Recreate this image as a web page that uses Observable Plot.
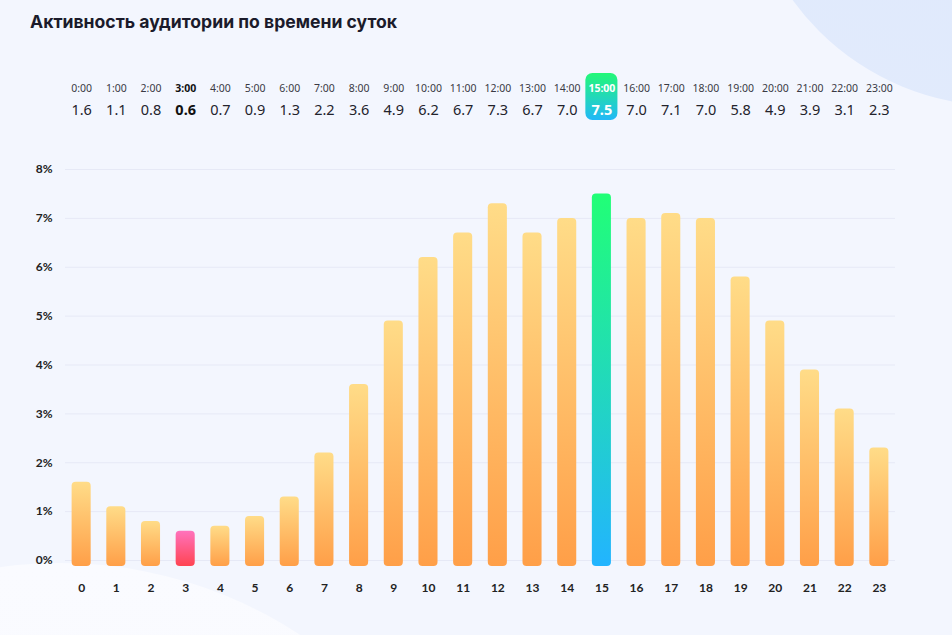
<!DOCTYPE html>
<html><head><meta charset="utf-8">
<script src="https://cdn.jsdelivr.net/npm/d3@7"></script>
<script src="https://cdn.jsdelivr.net/npm/@observablehq/plot@0.6"></script>
<style>
html,body{margin:0;padding:0;}
body{width:952px;height:635px;position:relative;overflow:hidden;background:#f3f6fe;font-family:"Noto Sans",sans-serif;}
#blobTR{position:absolute;left:744px;top:-406px;width:512px;height:512px;border-radius:50%;background:linear-gradient(200deg,#e6e6fb 0%,#dfe9fc 60%,#e2ebfc 100%);}
#blobBL{position:absolute;left:-377px;top:563px;width:874px;height:874px;border-radius:50%;background:linear-gradient(180deg,#fafbff 0%,#f6f7fd 100%);}
#title{position:absolute;left:30px;top:11px;font-family:Inter,sans-serif;font-weight:700;font-size:17.6px;color:#1b1b2b;}
#header{position:absolute;left:0;top:60px;}
#main{position:absolute;left:0;top:140px;}
</style></head>
<body>
<div id="blobTR"></div><div id="blobBL"></div>
<div id="title">Активность аудитории по времени суток</div>
<div id="header"></div>
<div id="main"></div>
<script>
const hours = d3.range(24);
const hourLabels = hours.map(h => h + ":00");
const values = [1.6,1.1,0.8,0.6,0.7,0.9,1.3,2.2,3.6,4.9,6.2,6.7,7.3,6.7,7.0,7.5,7.0,7.1,7.0,5.8,4.9,3.9,3.1,2.3];
const yTicks = [0,1,2,3,4,5,6,7,8];
const minHour = 3, maxHour = 15;

const data = hours.map((h,i) => ({hour: h, label: hourLabels[i], value: values[i]}));
const normal = data.filter(d => d.hour !== minHour && d.hour !== maxHour);
const low = data.filter(d => d.hour === minHour);
const high = data.filter(d => d.hour === maxHour);

const W = 952, ML = 56, MR = 48;
const xScale = {domain: hours, padding: 0.45, round: false};

const defs = () => {
  const s = d3.create("svg:defs");
  s.html(`
    <linearGradient id="gOrange" x1="0" y1="0" x2="0" y2="1"><stop offset="0" stop-color="#ffdc88"/><stop offset="1" stop-color="#ff9f48"/></linearGradient>
    <linearGradient id="gPink" x1="0" y1="0" x2="0" y2="1"><stop offset="0" stop-color="#ff73bd"/><stop offset="1" stop-color="#ff4452"/></linearGradient>
    <linearGradient id="gGreen" x1="0" y1="0" x2="0" y2="1"><stop offset="0" stop-color="#21ff76"/><stop offset="1" stop-color="#22b4ff"/></linearGradient>
    <linearGradient id="gBadge" x1="0" y1="0" x2="0" y2="1"><stop offset="0" stop-color="#23f877"/><stop offset="1" stop-color="#22b8f8"/></linearGradient>`);
  return s.node();
};

const plain = data.filter(d => d.hour !== minHour && d.hour !== maxHour);

// Header row
const header = Plot.plot({
  width: W, height: 64, marginLeft: ML, marginRight: MR, marginTop: 13, marginBottom: 4,
  x: {...xScale, axis: null},
  style: {background: "transparent", overflow: "visible", fontFamily: "'Noto Sans', sans-serif"},
  marks: [
    defs,
    Plot.cell(high, {x: "hour", fill: "url(#gBadge)", rx: 7, insetLeft: -6.5, insetRight: -6.5}),
    Plot.text(plain, {x: "hour", text: "label", frameAnchor: "top", dy: 11, fontSize: 10.5, fill: "#3a3a44"}),
    Plot.text(low, {x: "hour", text: "label", frameAnchor: "top", dy: 11, fontSize: 10.5, fill: "#111", fontWeight: 700}),
    Plot.text(high, {x: "hour", text: "label", frameAnchor: "top", dy: 11, fontSize: 10.5, fill: "#fff", fontWeight: 700}),
    Plot.text(plain, {x: "hour", text: d => d.value.toFixed(1), frameAnchor: "top", dy: 31, fontSize: 14.5, fill: "#23232c"}),
    Plot.text(low, {x: "hour", text: d => d.value.toFixed(1), frameAnchor: "top", dy: 31, fontSize: 14.5, fill: "#111", fontWeight: 700}),
    Plot.text(high, {x: "hour", text: d => d.value.toFixed(1), frameAnchor: "top", dy: 31, fontSize: 14.5, fill: "#fff", fontWeight: 700})
  ]
});
document.getElementById("header").append(header);

// Main chart
const main = Plot.plot({
  width: W, height: 470, marginLeft: ML, marginRight: MR, marginTop: 29, marginBottom: 50,
  x: {...xScale, label: null},
  y: {domain: [0, 8], label: null},
  style: {background: "transparent", fontFamily: "Lato, sans-serif", fontSize: "12px", color: "#222", overflow: "visible"},
  marks: [
    defs,
    Plot.ruleY(yTicks, {stroke: "#e6e9f6", strokeWidth: 1, insetLeft: 9, insetRight: 9}),
    Plot.barY(normal, {x: "hour", y: "value", fill: "url(#gOrange)", rx: 4, insetBottom: -6}),
    Plot.barY(low, {x: "hour", y: "value", fill: "url(#gPink)", rx: 4, insetBottom: -6}),
    Plot.barY(high, {x: "hour", y: "value", fill: "url(#gGreen)", rx: 4, insetBottom: -6}),
    Plot.axisX({tickSize: 0, tickPadding: 23, fontWeight: 700, fontSize: 12, fill: "#222", label: null}),
    Plot.axisY({ticks: yTicks, tickFormat: d => d + "%", tickSize: 0, tickPadding: 4, fontWeight: 700, fontSize: 12, fill: "#222", label: null})
  ]
});
document.getElementById("main").append(main);
</script>
</body></html>
